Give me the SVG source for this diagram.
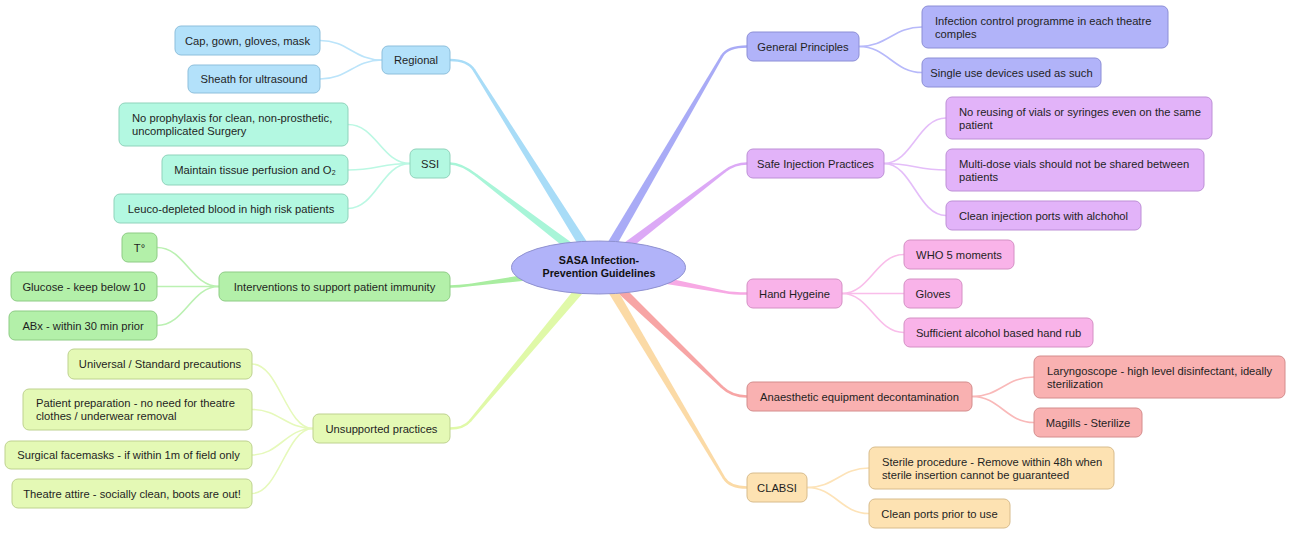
<svg xmlns="http://www.w3.org/2000/svg" width="1291" height="537" viewBox="0 0 1291 537">
<defs>
<style>
text{font-family:"Liberation Sans","Noto Sans",Arial,sans-serif;font-size:11.2px;fill:#1f1f1f}
.m{text-anchor:middle}
.title{font-weight:bold;font-size:10.7px;text-anchor:middle;fill:#111}
rect{rx:6px;ry:6px;stroke-width:1}
.blue rect{fill:#b3e1fa;stroke:#8dbfdc}
.mint rect{fill:#b3f8e1;stroke:#8fd3bb}
.green rect{fill:#b3f0a9;stroke:#8ecc85}
.yellow rect{fill:#e4f9b5;stroke:#bed28f}
.lav rect{fill:#b1b3f9;stroke:#8c8ed6}
.purple rect{fill:#e2b3f9;stroke:#bd8fd6}
.pink rect{fill:#f9b3e9;stroke:#d48fc4}
.salmon rect{fill:#f9b1b1;stroke:#d48c8c}
.peach rect{fill:#fde2b2;stroke:#d8bc8c}
.cl{fill:none;stroke-width:1.6}
.tip{fill:none;stroke-width:2.6;stroke-linecap:round}
</style>
</defs>
<rect x="0" y="0" width="1291" height="537" fill="#ffffff" style="rx:0;ry:0;stroke:none"/>
<g id="connectors">
  <!-- main branches -->
  <polygon points="602.3,270.5 723.1,56.7 720.9,55.3 593.7,265.5" fill="#a9abf6"/>
  <path class="tip" stroke="#a9abf6" d="M722,56 Q727.6,46.5 747,46.5"/>
  <polygon points="601,272 725.8,172 724.2,170 595,264" fill="#dca9f6"/>
  <path class="tip" stroke="#dca9f6" d="M725,171 Q734.9,163.5 747,163.5"/>
  <polygon points="597,272.9 724.75,293.3 725.25,290.7 599,263.1" fill="#f7a9e4"/>
  <path class="tip" stroke="#f7a9e4" d="M725,292 Q732.6,293.5 747,293.5"/>
  <polygon points="594.5,271.6 721.1,387.9 722.9,386.1 601.5,264.4" fill="#f7a5a5"/>
  <path class="tip" stroke="#f7a5a5" d="M722,387 Q731.8,396.5 747,396.5"/>
  <polygon points="594.2,269.6 722.9,478.7 725.1,477.3 602.8,264.4" fill="#fbdaa6"/>
  <path class="tip" stroke="#fbdaa6" d="M724,478 Q729.7,487.5 747,487.5"/>
  <polygon points="602.2,265.3 475.1,69.3 472.9,70.7 593.8,270.7" fill="#a8dcf7"/>
  <path class="tip" stroke="#a8dcf7" d="M474,70 Q467.7,60 450,60"/>
  <polygon points="601,264 476.8,174 475.2,176 595,272" fill="#a8f5d8"/>
  <path class="tip" stroke="#a8f5d8" d="M476,175 Q460.9,163.5 450,163.5"/>
  <polygon points="597.3,263 469.8,283.7 470.2,286.3 598.7,273" fill="#a9eda0"/>
  <path class="tip" stroke="#a9eda0" d="M470,285 Q458.7,286.5 450,286.5"/>
  <polygon points="594.2,264.8 469,420.2 471,421.8 601.8,271.2" fill="#e0f9a8"/>
  <path class="tip" stroke="#e0f9a8" d="M470,421 Q463.7,428.5 450,428.5"/>
  <!-- child connectors -->
  <g class="cl" stroke="#b7b9fa">
    <path d="M859,46.5 C887,46.5 894,27 922,27"/>
    <path d="M859,46.5 C887,46.5 894,72.5 922,72.5"/>
  </g>
  <g class="cl" stroke="#e4bdf9">
    <path d="M884,163.5 C912,163.5 918,118 946,118"/>
    <path d="M884,163.5 C912,163.5 918,170 946,170"/>
    <path d="M884,163.5 C912,163.5 918,215.5 946,215.5"/>
  </g>
  <g class="cl" stroke="#f9bdea">
    <path d="M842,293.5 C870,293.5 876,254.5 904,254.5"/>
    <path d="M842,293.5 L904,293.5"/>
    <path d="M842,293.5 C870,293.5 876,332.5 904,332.5"/>
  </g>
  <g class="cl" stroke="#f9b9b9">
    <path d="M972,396.5 C1000,396.5 1006,377 1034,377"/>
    <path d="M972,396.5 C1000,396.5 1006,422.5 1034,422.5"/>
  </g>
  <g class="cl" stroke="#fde3b8">
    <path d="M807,487.5 C835,487.5 841,468 869,468"/>
    <path d="M807,487.5 C835,487.5 841,513.5 869,513.5"/>
  </g>
  <g class="cl" stroke="#bbe4fa">
    <path d="M382,60 C354,60 348,40.5 320,40.5"/>
    <path d="M382,60 C354,60 348,79 320,79"/>
  </g>
  <g class="cl" stroke="#bbf8e3">
    <path d="M410,163.5 C382,163.5 376,124.5 348,124.5"/>
    <path d="M410,163.5 C382,163.5 376,170 348,170"/>
    <path d="M410,163.5 C382,163.5 376,208.5 348,208.5"/>
  </g>
  <g class="cl" stroke="#bbf1b2">
    <path d="M219,286.5 C191,286.5 185,247.5 157,247.5"/>
    <path d="M219,286.5 L157,286.5"/>
    <path d="M219,286.5 C191,286.5 185,325.5 157,325.5"/>
  </g>
  <g class="cl" stroke="#e6f9bb">
    <path d="M313,428.5 C286,428.5 279,364 252,364"/>
    <path d="M313,428.5 C286,428.5 279,409.5 252,409.5"/>
    <path d="M313,428.5 C286,428.5 279,455 252,455"/>
    <path d="M313,428.5 C286,428.5 279,493.5 252,493.5"/>
  </g>
</g>
<g id="node-center">
  <ellipse cx="598.5" cy="267.5" rx="87" ry="26.5" fill="#b1b3f9" stroke="#8f91d0" stroke-width="1"/>
  <text class="title" x="599" y="264">SASA Infection-</text>
  <text class="title" x="599" y="277">Prevention Guidelines</text>
</g>
<g id="node-regional" class="blue"><rect x="382" y="46" width="68" height="28"/><text class="m" x="416" y="64">Regional</text></g>
<g id="node-cap" class="blue"><rect x="175" y="26" width="145" height="29"/><text class="m" x="247.5" y="44.5">Cap, gown, gloves, mask</text></g>
<g id="node-sheath" class="blue"><rect x="188" y="65" width="132" height="28"/><text class="m" x="254" y="83">Sheath for ultrasound</text></g>
<g id="node-ssi" class="mint"><rect x="410" y="149" width="40" height="29"/><text class="m" x="430" y="167.5">SSI</text></g>
<g id="node-noproph" class="mint"><rect x="119" y="103" width="229" height="43"/><text x="132" y="122">No prophylaxis for clean, non-prosthetic,</text><text x="132" y="135">uncomplicated Surgery</text></g>
<g id="node-maintain" class="mint"><rect x="162" y="155" width="186" height="30"/><text class="m" x="255" y="174">Maintain tissue perfusion and O₂</text></g>
<g id="node-leuco" class="mint"><rect x="114" y="194" width="234" height="29"/><text class="m" x="231" y="212.5">Leuco-depleted blood in high risk patients</text></g>
<g id="node-interventions" class="green"><rect x="219" y="272" width="231" height="29"/><text class="m" x="334.5" y="290.5">Interventions to support patient immunity</text></g>
<g id="node-temp" class="green"><rect x="122" y="233" width="35" height="29"/><text class="m" x="139.5" y="251.5">T°</text></g>
<g id="node-glucose" class="green"><rect x="11" y="272" width="146" height="29"/><text class="m" x="84" y="290.5">Glucose - keep below 10</text></g>
<g id="node-abx" class="green"><rect x="9" y="311" width="148" height="29"/><text class="m" x="83" y="329.5">ABx - within 30 min prior</text></g>
<g id="node-unsupported" class="yellow"><rect x="313" y="414" width="137" height="29"/><text class="m" x="381.5" y="432.5">Unsupported practices</text></g>
<g id="node-universal" class="yellow"><rect x="68" y="349" width="184" height="30"/><text class="m" x="160" y="368">Universal / Standard precautions</text></g>
<g id="node-patient" class="yellow"><rect x="23" y="389" width="229" height="41"/><text x="36" y="407">Patient preparation - no need for theatre</text><text x="36" y="420">clothes / underwear removal</text></g>
<g id="node-surgical" class="yellow"><rect x="5" y="441" width="247" height="28"/><text class="m" x="128.5" y="459">Surgical facemasks - if within 1m of field only</text></g>
<g id="node-attire" class="yellow"><rect x="12" y="479" width="240" height="29"/><text class="m" x="132" y="497.5">Theatre attire - socially clean, boots are out!</text></g>
<g id="node-general" class="lav"><rect x="747" y="32" width="112" height="29"/><text class="m" x="803" y="50.5">General Principles</text></g>
<g id="node-infection" class="lav"><rect x="922" y="6" width="246" height="42"/><text x="935" y="24.5">Infection control programme in each theatre</text><text x="935" y="37.5">comples</text></g>
<g id="node-single" class="lav"><rect x="922" y="58" width="179" height="29"/><text class="m" x="1011.5" y="76.5">Single use devices used as such</text></g>
<g id="node-safe" class="purple"><rect x="747" y="149" width="137" height="29"/><text class="m" x="815.5" y="167.5">Safe Injection Practices</text></g>
<g id="node-noreuse" class="purple"><rect x="946" y="97" width="266" height="42"/><text x="959" y="115.5">No reusing of vials or syringes even on the same</text><text x="959" y="128.5">patient</text></g>
<g id="node-multidose" class="purple"><rect x="946" y="149" width="258" height="42"/><text x="959" y="167.5">Multi-dose vials should not be shared between</text><text x="959" y="180.5">patients</text></g>
<g id="node-cleaninj" class="purple"><rect x="946" y="201" width="195" height="29"/><text class="m" x="1043.5" y="219.5">Clean injection ports with alchohol</text></g>
<g id="node-hand" class="pink"><rect x="747" y="279" width="95" height="29"/><text class="m" x="794.5" y="297.5">Hand Hygeine</text></g>
<g id="node-who" class="pink"><rect x="904" y="240" width="110" height="29"/><text class="m" x="959" y="258.5">WHO 5 moments</text></g>
<g id="node-gloves" class="pink"><rect x="904" y="279" width="58" height="29"/><text class="m" x="933" y="297.5">Gloves</text></g>
<g id="node-sufficient" class="pink"><rect x="904" y="318" width="189" height="29"/><text class="m" x="998.5" y="336.5">Sufficient alcohol based hand rub</text></g>
<g id="node-anaesthetic" class="salmon"><rect x="747" y="382" width="225" height="29"/><text class="m" x="859.5" y="400.5">Anaesthetic equipment decontamination</text></g>
<g id="node-laryngoscope" class="salmon"><rect x="1034" y="356" width="251" height="42"/><text x="1047" y="374.5">Laryngoscope - high level disinfectant, ideally</text><text x="1047" y="387.5">sterilization</text></g>
<g id="node-magills" class="salmon"><rect x="1034" y="408" width="108" height="29"/><text class="m" x="1088" y="426.5">Magills - Sterilize</text></g>
<g id="node-clabsi" class="peach"><rect x="747" y="473" width="60" height="29"/><text class="m" x="777" y="491.5">CLABSI</text></g>
<g id="node-sterile" class="peach"><rect x="869" y="447" width="245" height="42"/><text x="882" y="465.5">Sterile procedure - Remove within 48h when</text><text x="882" y="478.5">sterile insertion cannot be guaranteed</text></g>
<g id="node-cleanports" class="peach"><rect x="869" y="499" width="141" height="29"/><text class="m" x="939.5" y="517.5">Clean ports prior to use</text></g>
</svg>
